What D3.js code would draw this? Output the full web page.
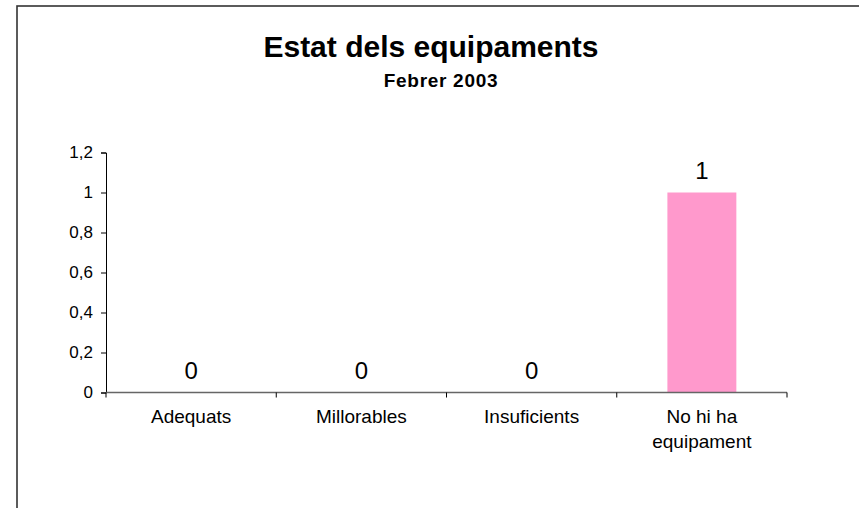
<!DOCTYPE html>
<html lang="en">
<head>
    <meta charset="UTF-8">
    <title>Estat dels equipaments</title>
    <script src="https://d3js.org/d3.v7.min.js"></script>
    <style>
        body { margin: 0; background: #fff; }
        text { font-family: "Liberation Sans", Arial, sans-serif; fill: #000; }
    </style>
</head>
<body>
    <svg width="859" height="508"></svg>
    <script>
        const categories = ["Adequats", "Millorables", "Insuficients", "No hi ha equipament"];
        const labelLines = [["Adequats"], ["Millorables"], ["Insuficients"], ["No hi ha", "equipament"]];
        const values = [0, 0, 0, 1];
        const yTicks = [0, 0.2, 0.4, 0.6, 0.8, 1, 1.2];

        const svg = d3.select("svg");

        // outer chart frame (runs off the right and bottom edges)
        svg.append("rect")
            .attr("x", 17).attr("y", 6)
            .attr("width", 900).attr("height", 600)
            .attr("fill", "#fff")
            .attr("stroke", "#333").attr("stroke-width", 1.6);

        svg.append("text")
            .attr("x", 431).attr("y", 57)
            .attr("text-anchor", "middle")
            .style("font-size", "30px").style("font-weight", "bold")
            .text("Estat dels equipaments");

        svg.append("text")
            .attr("x", 441).attr("y", 87)
            .attr("text-anchor", "middle")
            .style("font-size", "19px").style("font-weight", "bold")
            .style("letter-spacing", "0.7px")
            .text("Febrer 2003");

        const plot = { left: 106, right: 787, top: 152.5, bottom: 392.5 };

        const x = d3.scaleBand()
            .domain(categories)
            .range([plot.left, plot.right])
            .paddingInner(0.595)
            .paddingOuter(0.2975);

        const y = d3.scaleLinear()
            .domain([0, 1.2])
            .range([plot.bottom, plot.top]);

        const fmt = d3.formatLocale({ decimal: ",", thousands: ".", grouping: [3], currency: ["", ""] }).format("~g");

        // y axis
        const yAxis = svg.append("g")
            .attr("transform", `translate(${plot.left},0)`)
            .call(d3.axisLeft(y).tickValues(yTicks).tickFormat(fmt).tickSize(5).tickPadding(8));
        yAxis.attr("font-family", null).attr("font-size", null);
        yAxis.select(".domain").attr("stroke", "#000");
        yAxis.selectAll(".tick line").attr("stroke", "#000");
        yAxis.selectAll(".tick text")
            .attr("fill", "#000")
            .style("font-size", "17px");

        // bars
        svg.selectAll(".bar")
            .data(values)
            .enter().append("rect")
            .attr("class", "bar")
            .attr("x", (d, i) => x(categories[i]))
            .attr("y", d => y(d))
            .attr("width", x.bandwidth())
            .attr("height", d => y(0) - y(d))
            .attr("fill", "#ff99cc");

        // x axis line and boundary ticks
        const gap = (x.step() - x.bandwidth()) / 2;
        const bounds = categories.map(c => x(c) - gap).concat([plot.right]);
        svg.append("line")
            .attr("x1", plot.left).attr("x2", plot.right)
            .attr("y1", y(0)).attr("y2", y(0))
            .attr("stroke", "#666").attr("stroke-width", 1.3);
        svg.selectAll(".xtick")
            .data(bounds)
            .enter().append("line")
            .attr("class", "xtick")
            .attr("x1", d => d).attr("x2", d => d)
            .attr("y1", y(0)).attr("y2", y(0) + 5)
            .attr("stroke", "#000");

        // value labels
        svg.selectAll(".vlabel")
            .data(values)
            .enter().append("text")
            .attr("class", "vlabel")
            .attr("x", (d, i) => x(categories[i]) + x.bandwidth() / 2)
            .attr("y", d => y(d) - 14)
            .attr("text-anchor", "middle")
            .style("font-size", "24px")
            .text(d => fmt(d));

        // category labels
        const cat = svg.selectAll(".cat")
            .data(labelLines)
            .enter().append("text")
            .attr("class", "cat")
            .attr("text-anchor", "middle")
            .style("font-size", "19px")
            .attr("x", (d, i) => x(categories[i]) + x.bandwidth() / 2)
            .attr("y", 423);
        cat.selectAll("tspan")
            .data(d => d)
            .enter().append("tspan")
            .attr("x", function () { return this.parentNode.getAttribute("x"); })
            .attr("dy", (d, i) => i === 0 ? 0 : 25)
            .text(d => d);
    </script>
</body>
</html>
